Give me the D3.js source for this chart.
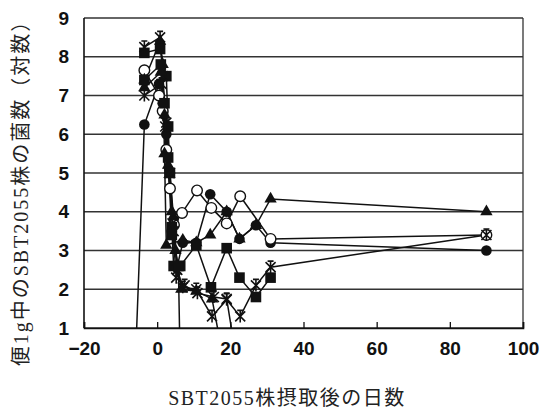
<!DOCTYPE html>
<html><head><meta charset="utf-8">
<script src="https://cdn.jsdelivr.net/npm/d3@7"></script>
<style>
html,body{margin:0;padding:0;background:#fff;}
svg{display:block;}
</style></head>
<body>
<div id="chart"></div>
<script>
// ---- data (days after intake, log10 counts per g faeces; 0 = below detection) ----
const xTicks = [-20, 0, 20, 40, 60, 80, 100];
const yTicks = [1, 2, 3, 4, 5, 6, 7, 8, 9];
const xTitle = "SBT2055株摂取後の日数";
const yTitle = "便1g中のSBT2055株の菌数（対数）";

const daysA = [-6, -3.5, 0.5, 1.5, 2.5, 3.5, 4.5, 5.5, 7, 10.7, 14.5, 19, 22.5, 27, 31, 90];
const valsA = [0, 6.25, 7.3, 6.8, 6.0, 5.0, 3.8, 2.6, 3.2, 3.2, 4.45, 4.0, 3.3, 3.65, 3.2, 3.0];
const daysB = [-3.5, 0.5, 1.5, 2.5, 3.5, 4.6, 6.8, 10.9, 14.8, 19, 22.7, 31, 90];
const valsB = [7.65, 7.0, 6.6, 5.6, 4.6, 3.66, 3.97, 4.55, 4.1, 3.7, 4.4, 3.3, 3.4];
const daysC = [-3.5, 0.8, 1.5, 2.0, 2.5, 7, 10.7, 14.5, 19, 22.5, 27, 31, 90];
const valsC = [7.4, 8.4, 7.8, 5.5, 3.14, 3.27, 3.2, 3.4, 4.0, 3.3, 3.65, 4.33, 4.0];
const daysD = [-3.5, 0.8, 2.5, 3.0, 3.5, 4.0, 4.5, 6.3, 10.7, 14.7, 19, 22.5, 27, 31];
const valsD = [8.1, 8.2, 7.5, 6.2, 5.0, 3.6, 2.6, 2.6, 3.14, 2.05, 3.06, 2.3, 1.8, 2.3];
const daysE = [-3.5, 0.8, 1.5, 2.5, 3.5, 4.5, 5.5, 7, 10.7, 15, 19, 22.7, 27, 31, 90];
const valsE = [8.25, 8.5, 7.5, 6.3, 5.0, 3.5, 2.5, 2.05, 2.0, 1.3, 1.73, 1.3, 2.1, 2.57, 3.4];
const daysF = [-3.5, 1.0, 2.0, 3.0, 4.0, 5.0, 6.6, 10.7, 15, 18.5];
const valsF = [7.2, 7.6, 6.5, 5.2, 4.0, 3.0, 2.0, 1.95, 1.75, 0];
const daysG = [-3.5, 1.2, 2.2, 3.2, 4.2, 5.2, 7.5, 11, 15.5, 19, 22];
const valsG = [7.0, 7.3, 6.2, 5.0, 3.7, 2.3, 2.1, 1.9, 1.8, 1.75, 0];
const daysH = [-3.5, 1.0, 2.0, 3.0, 4.0, 5.8, 6.3];
const valsH = [7.4, 7.8, 6.8, 5.4, 3.4, 2.6, 0];

const series = [
  {days: daysA, vals: valsA, marker: "fcircle"},
  {days: daysB, vals: valsB, marker: "ocircle"},
  {days: daysC, vals: valsC, marker: "triangle"},
  {days: daysD, vals: valsD, marker: "square"},
  {days: daysE, vals: valsE, marker: "asterisk"},
  {days: daysF, vals: valsF, marker: "triangle"},
  {days: daysG, vals: valsG, marker: "asterisk"},
  {days: daysH, vals: valsH, marker: "square"}
];

// ---- layout ----
const W = 542, H = 410;
const L = 84, R = 523, T = 18, B = 328;
const x = d3.scaleLinear().domain([-20, 100]).range([L, R]);
const y = d3.scaleLinear().domain([1, 9]).range([B, T]);

const svg = d3.select("#chart").append("svg").attr("width", W).attr("height", H);
svg.append("rect").attr("width", W).attr("height", H).attr("fill", "#fff");

svg.append("defs").append("clipPath").attr("id", "plotclip")
  .append("rect").attr("x", L).attr("y", T).attr("width", R - L).attr("height", B - T);

// gridlines
svg.append("g").selectAll("line").data(yTicks).join("line")
  .attr("x1", L).attr("x2", R)
  .attr("y1", d => y(d)).attr("y2", d => y(d))
  .attr("stroke", "#333").attr("stroke-width", 1.3);
// frame
svg.append("line").attr("x1", L).attr("x2", L).attr("y1", T).attr("y2", B).attr("stroke", "#111").attr("stroke-width", 1.6);
svg.append("line").attr("x1", R).attr("x2", R).attr("y1", T).attr("y2", B).attr("stroke", "#333").attr("stroke-width", 1.3);

// x axis (inside ticks)
const xAxis = d3.axisBottom(x).tickValues(xTicks).tickSize(-6).tickPadding(14)
  .tickFormat(d => d < 0 ? "\u2212" + Math.abs(d) : d);
const gx = svg.append("g").attr("transform", `translate(0,${B})`).call(xAxis);
gx.select(".domain").attr("stroke", "#111").attr("stroke-width", 1.6);
gx.selectAll(".tick line").attr("stroke", "#111").attr("stroke-width", 1.3);
gx.selectAll(".tick text").attr("font-family", "'Liberation Sans', Arial, sans-serif")
  .attr("font-size", 19).attr("font-weight", "bold").attr("fill", "#111");

// y axis labels
const yAxis = d3.axisLeft(y).tickValues(yTicks).tickSize(0).tickPadding(15);
const gy = svg.append("g").attr("transform", `translate(${L},0)`).call(yAxis);
gy.select(".domain").remove();
gy.selectAll(".tick text").attr("font-family", "'Liberation Sans', Arial, sans-serif")
  .attr("font-size", 19).attr("font-weight", "bold").attr("fill", "#111");

// titles
svg.append("text").attr("x", 287).attr("y", 405).attr("text-anchor", "middle")
  .attr("font-family", "'Liberation Serif', 'Noto Sans CJK JP', serif")
  .attr("font-size", 20).attr("letter-spacing", 1.5).attr("fill", "#222").text(xTitle);
svg.append("text").attr("transform", "translate(28,188) rotate(-90)").attr("text-anchor", "middle")
  .attr("font-family", "'Liberation Serif', 'Noto Sans CJK JP', serif")
  .attr("font-size", 20).attr("letter-spacing", 2).attr("fill", "#222").text(yTitle);

// lines
const line = d3.line().x(d => x(d[0])).y(d => y(d[1]));
const gl = svg.append("g").attr("clip-path", "url(#plotclip)");
series.forEach(s => {
  const pts = s.days.map((d, i) => [d, s.vals[i]]);
  gl.append("path").datum(pts).attr("d", line).attr("fill", "none")
    .attr("stroke", "#111").attr("stroke-width", 1.5);
});

// markers
const gm = svg.append("g").attr("clip-path", "url(#plotclip)");
const triPath = d3.symbol(d3.symbolTriangle, 66)();
series.forEach(s => {
  const pts = s.days.map((d, i) => [d, s.vals[i]]).filter(p => p[1] >= 1);
  const g = gm.append("g");
  pts.forEach(p => {
    const px = x(p[0]), py = y(p[1]);
    if (s.marker === "fcircle") {
      g.append("circle").attr("cx", px).attr("cy", py).attr("r", 5.3).attr("fill", "#111");
    } else if (s.marker === "ocircle") {
      g.append("circle").attr("cx", px).attr("cy", py).attr("r", 5.3).attr("fill", "#fff")
        .attr("stroke", "#111").attr("stroke-width", 1.4);
    } else if (s.marker === "triangle") {
      g.append("path").attr("d", triPath).attr("transform", `translate(${px},${py})`).attr("fill", "#111");
    } else if (s.marker === "square") {
      g.append("rect").attr("x", px - 5.3).attr("y", py - 5.3).attr("width", 10.6).attr("height", 10.6).attr("fill", "#111");
    } else if (s.marker === "asterisk") {
      g.append("path").attr("d", "M-5,-5L5,5M-5,5L5,-5M0,-6L0,6M-3,-6L3,-6")
        .attr("transform", `translate(${px},${py})`).attr("stroke", "#111").attr("stroke-width", 1.6).attr("fill", "none");
    }
  });
});
</script>
</body></html>
